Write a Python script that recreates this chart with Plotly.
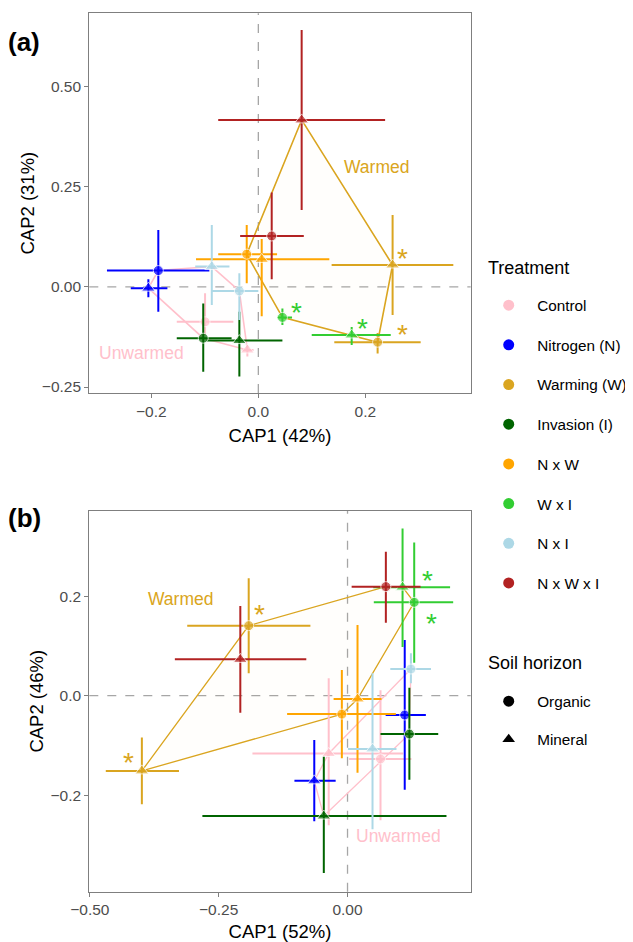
import plotly.graph_objects as go

# ---------------- data ----------------
treatments = ["Control", "Nitrogen (N)", "Warming (W)", "Invasion (I)",
              "N x W", "W x I", "N x I", "N x W x I"]
colors = ["#FFC0CB", "#0000FF", "#DAA520", "#006400",
          "#FFA500", "#32CD32", "#ADD8E6", "#B22222"]
warmed = ["Warming (W)", "N x W", "W x I", "N x W x I"]
unwarmed = ["Control", "Nitrogen (N)", "Invasion (I)", "N x I"]
horizons = ["Organic", "Mineral"]

# panel (a): per treatment [organic, mineral]
a_x    = [[-0.0996, -0.0205], [-0.187, -0.2056], [0.223, 0.251], [-0.103, -0.0355],
          [-0.0217, 0.0063], [0.045, 0.1745], [-0.0355, -0.087], [0.025, 0.081]]
a_y    = [[-0.087, -0.1575], [0.041, -0.003], [-0.138, 0.055], [-0.128, -0.134],
          [0.082, 0.069], [-0.076, -0.12], [-0.01, 0.051], [0.1275, 0.4175]]
a_xlo  = [[-0.1525, -0.031], [-0.283, -0.2385], [0.142, 0.137], [-0.1525, -0.0965],
          [-0.075, -0.1165], [0.035, 0.0998], [-0.087, -0.118], [-0.034, -0.075]]
a_xhi  = [[-0.0467, -0.009], [-0.0916, -0.170], [0.3035, 0.3645], [-0.05, 0.045],
          [0.035, 0.1327], [0.063, 0.2475], [0.0, -0.054], [0.085, 0.237]]
a_ylo  = [[-0.12, -0.174], [-0.062, -0.026], [-0.166, -0.07], [-0.212, -0.224],
          [0.009, -0.073], [-0.095, -0.145], [-0.0825, -0.045], [0.019, 0.1925]]
a_yhi  = [[-0.016, -0.145], [0.1425, 0.019], [-0.115, 0.18], [-0.041, -0.062],
          [0.155, 0.12], [-0.054, -0.10], [0.034, 0.155], [0.236, 0.6425]]

# panel (b)
b_x    = [[0.064, -0.0365], [0.111, -0.0645], [-0.1917, -0.399], [0.12, -0.046],
          [-0.011, 0.0194], [0.1294, 0.1068], [0.123, 0.0485], [0.0744, -0.208]]
b_y    = [[-0.127, -0.116], [-0.0388, -0.171], [0.1406, -0.151], [-0.077, -0.2416],
          [-0.037, -0.0066], [0.1875, 0.218], [0.0536, -0.107], [0.219, 0.073]]
b_xlo  = [[0.003, -0.1845], [0.074, -0.103], [-0.311, -0.469], [0.064, -0.2816],
          [-0.1172, -0.027], [0.051, 0.05], [0.083, 0.001], [0.008, -0.335]]
b_xhi  = [[0.124, 0.108], [0.152, -0.023], [-0.072, -0.327], [0.176, 0.192],
          [0.0938, 0.066], [0.205, 0.199], [0.162, 0.095], [0.1417, -0.080]]
b_ylo  = [[-0.25, -0.26], [-0.189, -0.252], [0.045, -0.218], [-0.169, -0.356],
          [-0.1258, -0.1546], [0.0663, 0.098], [0.025, -0.268], [0.1466, -0.034]]
b_yhi  = [[0.011, 0.035], [0.112, -0.089], [0.236, -0.084], [0.016, -0.1225],
          [0.0516, 0.142], [0.3075, 0.336], [0.085, 0.045], [0.289, 0.18]]

# significance asterisks
a_star_x = [0.270, 0.270, 0.195, 0.072]
a_star_y = [0.092, -0.099, -0.083, -0.045]
a_star_c = ["Warming (W)", "Warming (W)", "W x I", "W x I"]
b_star_x = [-0.424, -0.170, 0.155, 0.162]
b_star_y = [-0.119, 0.179, 0.247, 0.162]
b_star_c = ["Warming (W)", "Warming (W)", "W x I", "W x I"]

# group label positions
a_lab = {"Warmed": (0.221, 0.300), "Unwarmed": (-0.218, -0.166)}
b_lab = {"Warmed": (-0.324, 0.194), "Unwarmed": (0.098, -0.282)}

a_xticks = [-0.2, 0.0, 0.2];        a_xtext = ["\u22120.2", "0.0", "0.2"]
a_yticks = [-0.25, 0.0, 0.25, 0.5]; a_ytext = ["\u22120.25", "0.00", "0.25", "0.50"]
b_xticks = [-0.5, -0.25, 0.0];      b_xtext = ["\u22120.50", "\u22120.25", "0.00"]
b_yticks = [-0.2, 0.0, 0.2];        b_ytext = ["\u22120.2", "0.0", "0.2"]

a_xrange = [-0.316, 0.397]; a_yrange = [-0.265, 0.684]
b_xrange = [-0.501, 0.239]; b_yrange = [-0.3936, 0.3715]

# ---------------- helpers ----------------
FONT = "Liberation Sans, Arial, sans-serif"
OFF = 8                      # page body margin
W, H = 633 - OFF, 942 - OFF  # figure size so that it fits the window


def fx(px):  # window pixel -> paper x
    return (px - OFF) / W


def fy(py):  # window pixel -> paper y
    return 1 - (py - OFF) / H


cmap = dict(zip(treatments, colors))
symbols = ["circle", "triangle-up"]


def hull(px, py):
    pts = sorted(set(zip(px, py)))
    def cross(o, a, b):
        return (a[0]-o[0])*(b[1]-o[1]) - (a[1]-o[1])*(b[0]-o[0])
    lower, upper = [], []
    for p in pts:
        while len(lower) >= 2 and cross(lower[-2], lower[-1], p) <= 0:
            lower.pop()
        lower.append(p)
    for p in reversed(pts):
        while len(upper) >= 2 and cross(upper[-2], upper[-1], p) <= 0:
            upper.pop()
        upper.append(p)
    h = lower[:-1] + upper[:-1]
    h.append(h[0])
    return [p[0] for p in h], [p[1] for p in h]


def rgba(hexc, a):
    hexc = hexc.lstrip("#")
    return "rgba(%d,%d,%d,%.3f)" % (int(hexc[0:2], 16), int(hexc[2:4], 16), int(hexc[4:6], 16), a)


fig = go.Figure()


def add_panel(xs, ys, xlo, xhi, ylo, yhi, xa, ya, lw):
    for group, gcol in ((warmed, "#DAA520"), (unwarmed, "#FFC0CB")):
        gx, gy = [], []
        for t in group:
            i = treatments.index(t)
            gx += xs[i]; gy += ys[i]
        hx, hy = hull(gx, gy)
        fig.add_trace(go.Scatter(x=hx, y=hy, mode="lines", xaxis=xa, yaxis=ya,
                                 line=dict(color=gcol, width=lw), fill="toself",
                                 fillcolor=rgba(gcol, 0.012), showlegend=False,
                                 hoverinfo="skip"))
    for i, t in enumerate(treatments):
        fig.add_trace(go.Scatter(
            x=xs[i], y=ys[i], mode="markers", xaxis=xa, yaxis=ya,
            marker=dict(color=colors[i], size=[10, 12], symbol=symbols),
            error_x=dict(type="data", symmetric=False,
                         array=[xhi[i][k]-xs[i][k] for k in range(2)],
                         arrayminus=[xs[i][k]-xlo[i][k] for k in range(2)],
                         color=colors[i], thickness=2, width=0),
            error_y=dict(type="data", symmetric=False,
                         array=[yhi[i][k]-ys[i][k] for k in range(2)],
                         arrayminus=[ys[i][k]-ylo[i][k] for k in range(2)],
                         color=colors[i], thickness=2, width=0),
            name=t, showlegend=False))


add_panel(a_x, a_y, a_xlo, a_xhi, a_ylo, a_yhi, "x", "y", 1.6)
add_panel(b_x, b_y, b_xlo, b_xhi, b_ylo, b_yhi, "x2", "y2", 1.3)

# legend entries
for i, t in enumerate(treatments):
    fig.add_trace(go.Scatter(x=[None], y=[None], mode="markers", name=t,
                             marker=dict(color=colors[i], size=11, symbol="circle"),
                             legend="legend", legendgroup=t, showlegend=True))
for h, s in zip(horizons, symbols):
    fig.add_trace(go.Scatter(x=[None], y=[None], mode="markers", name=h,
                             marker=dict(color="black", size=11, symbol=s),
                             legend="legend2", legendgroup=h, showlegend=True))

annotations = []
for sx, sy, sc, xa, ya in [(a_star_x, a_star_y, a_star_c, "x", "y"),
                           (b_star_x, b_star_y, b_star_c, "x2", "y2")]:
    for x, y, c in zip(sx, sy, sc):
        annotations.append(dict(x=x, y=y, xref=xa, yref=ya, text="*", showarrow=False,
                                font=dict(family=FONT, size=28, color=cmap[c]),
                                yshift=-8))
for lab, xa, ya in [(a_lab, "x", "y"), (b_lab, "x2", "y2")]:
    for k, (x, y) in lab.items():
        annotations.append(dict(x=x, y=y, xref=xa, yref=ya, text=k, showarrow=False,
                                font=dict(family=FONT, size=17.5,
                                          color="#DAA520" if k == "Warmed" else "#FFC0CB")))
annotations.append(dict(x=fx(6), y=fy(42), xref="paper", yref="paper", text="<b>(a)</b>",
                        showarrow=False, xanchor="left", yanchor="middle",
                        font=dict(family=FONT, size=26, color="black")))
annotations.append(dict(x=fx(6), y=fy(518), xref="paper", yref="paper", text="<b>(b)</b>",
                        showarrow=False, xanchor="left", yanchor="middle",
                        font=dict(family=FONT, size=26, color="black")))
# legend titles
annotations.append(dict(x=fx(486), y=fy(268), xref="paper", yref="paper", text="Treatment",
                        showarrow=False, xanchor="left", yanchor="middle",
                        font=dict(family=FONT, size=18, color="black")))
annotations.append(dict(x=fx(486), y=fy(663), xref="paper", yref="paper", text="Soil horizon",
                        showarrow=False, xanchor="left", yanchor="middle",
                        font=dict(family=FONT, size=18, color="black")))

shapes = []
for xa, ya in [("x", "y"), ("x2", "y2")]:
    shapes.append(dict(type="line", xref=xa, yref=ya + " domain", x0=0, x1=0, y0=0, y1=1,
                       line=dict(color="#A6A6A6", width=1.3, dash="dash"), layer="below"))
    shapes.append(dict(type="line", xref=xa + " domain", yref=ya, x0=0, x1=1, y0=0, y1=0,
                       line=dict(color="#A6A6A6", width=1.3, dash="dash"), layer="below"))

axis_common = dict(showline=True, mirror=True, linecolor="#7F7F7F", linewidth=1.2,
                   ticks="outside", ticklen=4, tickcolor="#7F7F7F", tickwidth=1.2,
                   showgrid=False, zeroline=False, automargin=False,
                   tickfont=dict(family=FONT, size=15.5, color="#4D4D4D"))
title_font = dict(family=FONT, size=18.5, color="black")

fig.update_layout(
    width=W, height=H, margin=dict(l=0, r=0, t=0, b=0, autoexpand=False),
    paper_bgcolor="white", plot_bgcolor="white",
    xaxis=dict(domain=[fx(89.3), fx(470.7)], range=a_xrange, tickvals=a_xticks,
               ticktext=a_xtext, anchor="y",
               title=dict(text="CAP1 (42%)", font=title_font, standoff=10), **axis_common),
    yaxis=dict(domain=[fy(393), fy(13.3)], range=a_yrange, tickvals=a_yticks,
               ticktext=a_ytext, anchor="x",
               title=dict(text="CAP2 (31%)", font=title_font, standoff=2), **axis_common),
    xaxis2=dict(domain=[fx(89.3), fx(470.7)], range=b_xrange, tickvals=b_xticks,
                ticktext=b_xtext, anchor="y2",
                title=dict(text="CAP1 (52%)", font=title_font, standoff=10), **axis_common),
    yaxis2=dict(domain=[fy(891.7), fy(510.7)], range=b_yrange, tickvals=b_yticks,
                ticktext=b_ytext, anchor="x2",
                title=dict(text="CAP2 (46%)", font=title_font, standoff=2), **axis_common),
    legend=dict(x=fx(480.2), xanchor="left", y=fy(288.7), yanchor="top",
                font=dict(family=FONT, size=15.3, color="black"), itemwidth=47,
                traceorder="grouped", tracegroupgap=16.8, bgcolor="rgba(0,0,0,0)"),
    legend2=dict(x=fx(480.2), xanchor="left", y=fy(684.7), yanchor="top",
                 font=dict(family=FONT, size=15.3, color="black"), itemwidth=47,
                 traceorder="grouped", tracegroupgap=15.1, bgcolor="rgba(0,0,0,0)"),
    annotations=annotations, shapes=shapes,
)

fig.write_html("out.html")
